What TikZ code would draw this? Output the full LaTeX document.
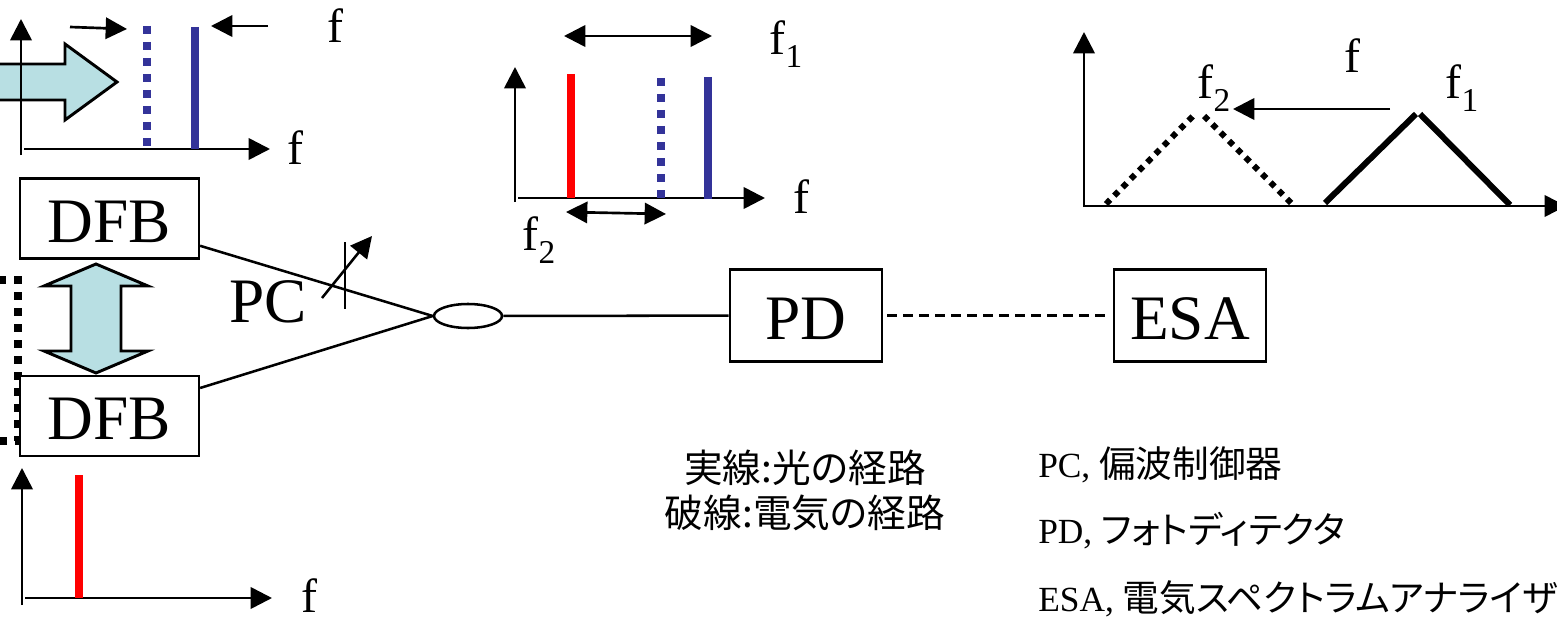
\documentclass[tikz,border=0pt]{standalone}
\usepackage{fontspec}
\setmainfont{Liberation Serif}
\newfontfamily\jpfont[RawFeature={+palt}]{Noto Sans CJK JP}
\usetikzlibrary{arrows.meta,shapes.geometric}
\newcommand{\fsub}[1]{f\raisebox{-.28em}{\fontsize{25}{25}\selectfont #1}}
\newcommand{\jpnote}[1]{{\jpfont\fontsize{27.5}{30}\selectfont #1}}
\begin{document}
\begin{tikzpicture}[
        x=.75pt,
        y=-.75pt,
        >={Triangle[length=16pt,width=16pt]},
        device/.style ={draw,fill=white,line width=1.9pt,inner sep=0pt,text height=35.5pt,text depth=0pt,font=\fontsize{47.5}{50}\selectfont},
        wave/.style ={inner sep=0pt,font=\fontsize{36}{40}\selectfont},
        note/.style ={inner sep=0pt,anchor=west,font=\fontsize{26.5}{30}\selectfont},
        legend/.style ={inner sep=0pt,font=\jpfont\fontsize{29}{30}\selectfont},
        axis/.style ={->,line width=2pt},
        fibre/.style ={line width=1.9pt},
        sweep/.style ={draw,fill=arrowfill,line width=2.2pt,miter limit=10},
        specline/.style ={line width=6pt},
        specdots/.style ={line width=6pt,dash pattern=on 6pt off 6pt},
        peak/.style ={line width=4.5pt},
        peakdots/.style ={line width=4.5pt,dash pattern=on 4.4pt off 4.4pt},
    ]
    \definecolor{arrowfill}{HTML}{B8DFE3}
    \definecolor{lineblue}{HTML}{333399}
    \useasboundingbox (0,0) rectangle (1557,617);

    % feedback path behind the lower laser
    \draw[specdots] (-2,280) -- (18,280) -- (18,441) -- (0,441);

    \node[device,minimum width=134pt,minimum height=60pt] (dfbone) at (109.5,218.5) {DFB};
    \node[device,minimum width=134pt,minimum height=60pt] (dfbtwo) at (109.5,416) {DFB};
    \node[draw,ellipse,line width=1.9pt,minimum width=51pt,minimum height=18pt,inner sep=0pt] (coupler) at (468,316) {};
    \node[device,minimum width=114pt,minimum height=69pt] (pd) at (806,315.5) {PD};
    \node[device,minimum width=114pt,minimum height=69pt] (esa) at (1190,315.5) {ESA};

    \path[fibre] (dfbone) edge (coupler.west);
    \path[fibre] (dfbtwo) edge (coupler.west);
    \path[fibre] (coupler) edge (pd);
    \path[fibre,dash pattern=on 7.5pt off 4.5pt,shorten <=3pt,shorten >=3pt] (pd) edge (esa);

    % polarisation controller
    \node[inner sep=0pt,font=\fontsize{47.5}{50}\selectfont] (pc) at (268,302) {PC};
    \coordinate (pctop) at (345,242);
    \coordinate (pcbot) at (345,309);
    \coordinate (pcfrom) at (322,298);
    \coordinate (pcto) at (372,236);
    \draw[fibre] (pctop) -- (pcbot);
    \draw[fibre,->] (pcfrom) -- (pcto);

    % tuning arrows
    \draw[sweep] (-10,64) -- (65,64) -- (65,44) -- (117,82) -- (65,120) -- (65,100) -- (-10,100) -- cycle;
    \draw[sweep] (96,264) -- (148,286) -- (121,286) -- (121,351) -- (148,351) -- (96,373) -- (44,351) -- (71,351) -- (71,286) -- (44,286) -- cycle;

    % upper left spectrum
    \coordinate (aytop) at (21,19);
    \coordinate (aybot) at (21,155);
    \coordinate (axleft) at (24,149);
    \coordinate (axright) at (270,149);
    \draw[axis] (aybot) -- (aytop);
    \draw[axis] (axleft) -- (axright);
    \draw[specdots,lineblue] (147,26) -- (147,146);
    \draw[specline,lineblue] (194.5,27) -- (194.5,149);
    \draw[axis] (70,27) -- (127,29);
    \draw[axis] (268,26) -- (211,26);
    \node[wave] (fa) at (335,26) {f};
    \node[wave] (fb) at (295,148) {f};

    % middle spectrum
    \coordinate (bytop) at (515,67);
    \coordinate (bybot) at (515,202);
    \coordinate (bxleft) at (518,198);
    \coordinate (bxright) at (765,198);
    \draw[axis] (bybot) -- (bytop);
    \draw[axis] (bxleft) -- (bxright);
    \draw[specline,red] (571,74) -- (571,198);
    \draw[specdots,lineblue] (661,78) -- (661,198);
    \draw[specline,lineblue] (708,77) -- (708,199);
    \draw[axis,<->] (564,36) -- (712,36);
    \draw[axis,<->] (566,212) -- (666,214);
    \node[wave] (fc) at (801,197) {f};
    \node[wave] (fone) at (786,44) {\fsub{1}};
    \node[wave] (ftwo) at (539,240) {\fsub{2}};

    % beat spectrum
    \coordinate (cytop) at (1084,32);
    \coordinate (cybot) at (1084,207);
    \coordinate (cxleft) at (1084,206);
    \coordinate (cxright) at (1566,206);
    \draw[axis] (cybot) -- (cytop);
    \draw[axis] (cxleft) -- (cxright);
    \draw[peakdots] (1106,204) -- (1194,115);
    \draw[peakdots] (1204,116) -- (1293,205);
    \draw[peak] (1325,203) -- (1416,114);
    \draw[peak] (1420,114) -- (1510,205);
    \draw[axis] (1390,109) -- (1233,109);
    \node[wave] (fd) at (1352,56) {f};
    \node[wave] (fthree) at (1462,88) {\fsub{1}};
    \node[wave] (ffour) at (1214,88) {\fsub{2}};

    % lower left spectrum
    \coordinate (dytop) at (22,468);
    \coordinate (dybot) at (22,605);
    \coordinate (dxleft) at (25,598);
    \coordinate (dxright) at (272,598);
    \draw[axis] (dybot) -- (dytop);
    \draw[axis] (dxleft) -- (dxright);
    \draw[specline,red] (78.5,475) -- (78.5,598);
    \node[wave] (fe) at (309,596) {f};

    % legend
    \node[legend] (legendone) at (805,468) {実線:光の経路};
    \node[legend] (legendtwo) at (805,513) {破線:電気の経路};
    \node[note] (notepc) at (1038,465) {PC, \jpnote{偏波制御器}};
    \node[note] (notepd) at (1038,531) {PD, \jpnote{フォトディテクタ}};
    \node[note] (noteesa) at (1038,599) {ESA, \jpnote{電気スペクトラムアナライザ}};
\end{tikzpicture}
\end{document}
